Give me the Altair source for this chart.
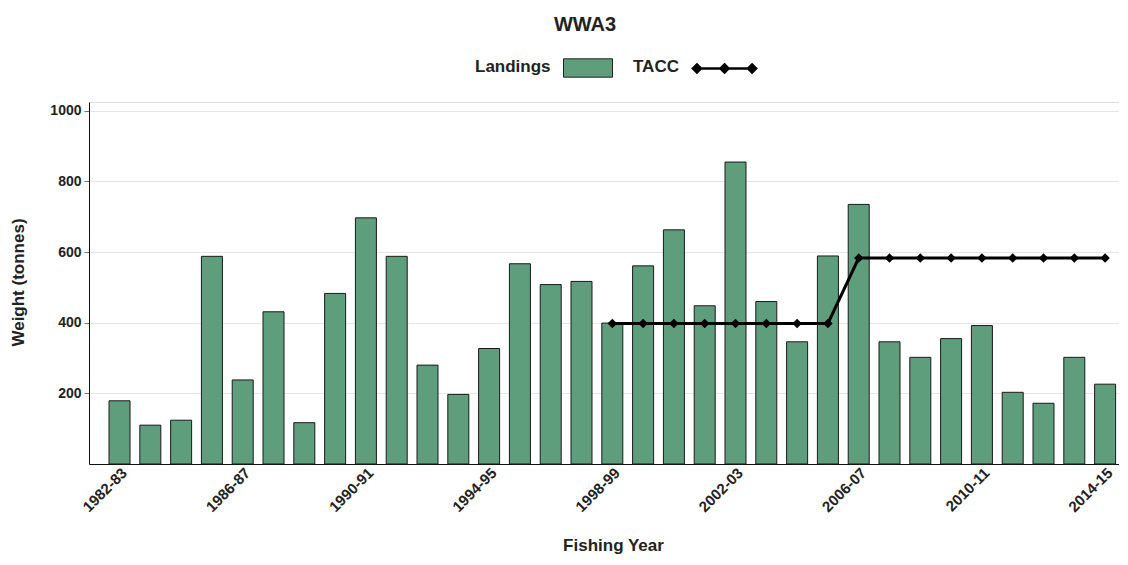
import altair as alt
import pandas as pd

years = ["1982-83", "1983-84", "1984-85", "1985-86", "1986-87", "1987-88", "1988-89",
         "1989-90", "1990-91", "1991-92", "1992-93", "1993-94", "1994-95", "1995-96",
         "1996-97", "1997-98", "1998-99", "1999-00", "2000-01", "2001-02", "2002-03",
         "2003-04", "2004-05", "2005-06", "2006-07", "2007-08", "2008-09", "2009-10",
         "2010-11", "2011-12", "2012-13", "2013-14", "2014-15"]
landings = [179, 110, 124, 588, 238, 431, 117, 483, 697, 588, 280, 197, 327, 567,
            508, 517, 399, 561, 663, 448, 855, 460, 346, 589, 735, 346, 302, 355,
            392, 203, 172, 302, 226]
tacc_years = ["1998-99", "1999-00", "2000-01", "2001-02", "2002-03", "2003-04", "2004-05",
              "2005-06", "2006-07", "2007-08", "2008-09", "2009-10", "2010-11", "2011-12",
              "2012-13", "2013-14", "2014-15"]
tacc = [398, 398, 398, 398, 398, 398, 398, 398, 583, 583, 583, 583, 583, 583, 583, 583, 583]
label_years = ["1982-83", "1986-87", "1990-91", "1994-95", "1998-99", "2002-03",
               "2006-07", "2010-11", "2014-15"]
y_ticks = [200, 400, 600, 800, 1000]

bars_df = pd.DataFrame({"year": years, "value": landings, "series": "Landings"})
line_df = pd.DataFrame({"year": tacc_years, "value": tacc, "series": "TACC"})

FONT = "Liberation Sans"
GREEN = "#5f9e7c"

x_enc = alt.X(
    "year:N", sort=years,
    scale=alt.Scale(domain=years, paddingInner=0.318, paddingOuter=0.38, align=0.855),
    axis=alt.Axis(
        title="Fishing Year", values=label_years, labelAngle=-45, ticks=False,
        labelFont=FONT, labelFontSize=15, labelFontWeight="bold", labelColor="#222",
        labelPadding=1, domainColor="#111", domainWidth=1, grid=False,
        titleFont=FONT, titleFontSize=17, titleFontWeight="bold", titleColor="#222",
        titleX=524, titleY=86, titleBaseline="alphabetic", titleAnchor="middle",
    ),
)
y_enc = alt.Y(
    "value:Q",
    scale=alt.Scale(domain=[0, 1025], nice=False),
    axis=alt.Axis(
        title="Weight (tonnes)", values=y_ticks, format="d", grid=True,
        gridColor="#e6e6e6", gridWidth=1, tickColor="#777", tickSize=5,
        domainColor="#111",
        labelFont=FONT, labelFontSize=14, labelFontWeight="bold", labelColor="#222",
        labelPadding=3,
        titleFont=FONT, titleFontSize=17, titleFontWeight="bold", titleColor="#222",
        titleX=-71, titleY=180, titleAngle=-90, titleBaseline="middle",
        titleAlign="center",
    ),
)

rect_path = "M-2,-0.75L2,-0.75L2,0.75L-2,0.75Z"
tacc_path = ("M-2.25,-0.16L2.25,-0.16 "
             "M-2.25,-0.49L-1.92,-0.16L-2.25,0.17L-2.58,-0.16Z "
             "M0,-0.49L0.33,-0.16L0,0.17L-0.33,-0.16Z "
             "M2.25,-0.49L2.58,-0.16L2.25,0.17L1.92,-0.16Z")

bars = alt.Chart(bars_df).mark_bar(stroke="#1a1a1a", strokeWidth=1).encode(
    x=x_enc,
    y=y_enc,
    fill=alt.Fill(
        "series:N",
        scale=alt.Scale(domain=["Landings"], range=[GREEN]),
        legend=alt.Legend(
            title="Landings", titleOrient="left", orient="none",
            legendX=386, legendY=-47, padding=0,
            titleFont=FONT, titleFontSize=17, titleFontWeight="bold", titleColor="#222",
            titlePadding=24, titleAnchor="middle", titleBaseline="middle",
            symbolType=rect_path, symbolSize=600, symbolStrokeColor="#222",
            symbolStrokeWidth=1, labelExpr="''", labelFontSize=1, labelOffset=0,
        ),
    ),
)

line = alt.Chart(line_df).mark_line(
    strokeWidth=3,
    point=alt.OverlayMarkDef(shape="diamond", size=45, filled=True, color="black"),
).encode(
    x=alt.X("year:N", sort=years),
    y=alt.Y("value:Q"),
    stroke=alt.Stroke(
        "series:N",
        scale=alt.Scale(domain=["TACC"], range=["black"]),
        legend=alt.Legend(
            title="TACC", titleOrient="left", orient="none",
            legendX=544, legendY=-45, padding=0,
            titleFont=FONT, titleFontSize=17, titleFontWeight="bold", titleColor="#222",
            titlePadding=32, titleAnchor="middle", titleBaseline="middle",
            symbolType=tacc_path, symbolSize=600, symbolStrokeWidth=2.5,
            symbolFillColor="black", labelExpr="''", labelFontSize=1, labelOffset=0,
        ),
    ),
)

chart = alt.layer(bars, line).properties(
    width=1030,
    height=362,
    autosize=alt.AutoSizeParams(type="none"),
    padding={"left": 81, "top": 94, "right": 0, "bottom": 93},
    title=alt.TitleParams(
        "WWA3", font=FONT, fontSize=20, fontWeight="bold", color="#222",
        anchor="middle", dx=-19, offset=20,
    ),
).configure_view(stroke=None).configure(background="white")

chart.save("out.html", embed_options={"renderer": "svg", "actions": False})
